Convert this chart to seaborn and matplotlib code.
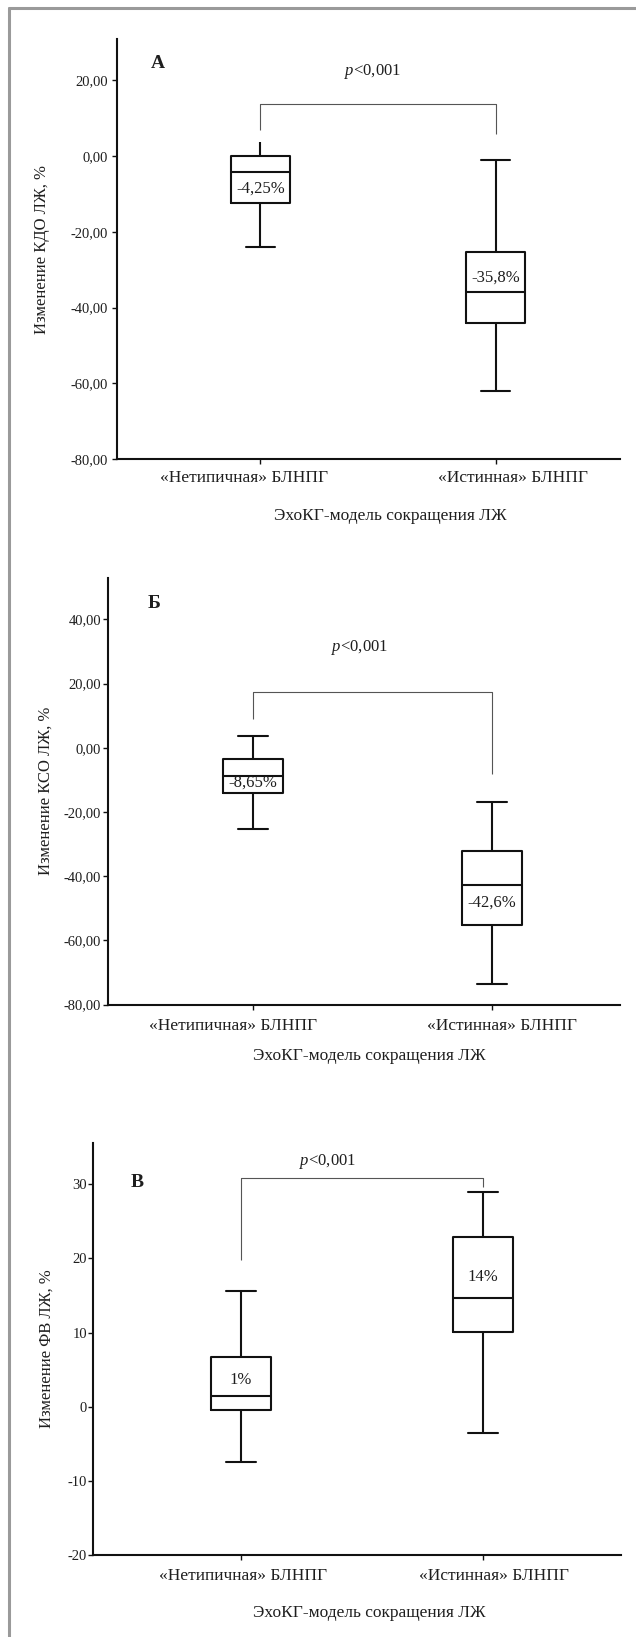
import numpy as np
import pandas as pd
import matplotlib
matplotlib.use("Agg")
import matplotlib.pyplot as plt
from matplotlib.lines import Line2D
from matplotlib.ticker import FuncFormatter
from matplotlib.transforms import ScaledTranslation
import seaborn as sns

# ---------------- data (five-number summaries) ----------------
categories = ["«Нетипичная» БЛНПГ", "«Истинная» БЛНПГ"]
# order: lower whisker, Q1, median, Q3, upper whisker
kdo_atypical = [-23.9, -12.5, -4.25, 0.0, 3.8]
kdo_true = [-62.1, -44.1, -35.8, -25.3, -1.1]
kso_atypical = [-25.4, -14.0, -8.65, -3.4, 3.6]
kso_true = [-73.5, -55.2, -42.6, -32.2, -17.0]
fv_atypical = [-7.5, -0.43, 1.5, 6.74, 15.57]
fv_true = [-3.58, 10.07, 14.7, 22.83, 28.98]

kdo_labels = ["-4,25%", "-35,8%"]
kso_labels = ["-8,65%", "-42,6%"]
fv_labels = ["1%", "14%"]
kdo_label_y = [-8.47, -32.0]
kso_label_y = [-11.0, -48.2]
fv_label_y = [3.6, 17.5]

kdo_ticks = [-80, -60, -40, -20, 0, 20]
kso_ticks = [-80, -60, -40, -20, 0, 20, 40]
fv_ticks = [-20, -10, 0, 10, 20, 30]

# significance brackets: left leg bottom, bar height, right leg bottom
kdo_bracket = [6.9, 13.86, 5.86]
kso_bracket = [8.8, 17.4, -8.3]
fv_bracket = [19.8, 30.9, 29.6]

panel_letters = ["А", "Б", "В"]
p_text = "$p$<0,001"
ylabels = ["Изменение КДО ЛЖ, %", "Изменение КСО ЛЖ, %", "Изменение ФВ ЛЖ, %"]
xlabel = "ЭхоКГ-модель сокращения ЛЖ"

# ---------------- style ----------------
sns.set_theme(style="ticks")
plt.rcParams["font.family"] = ["Liberation Serif", "DejaVu Serif"]
plt.rcParams["mathtext.fontset"] = "custom"
plt.rcParams["mathtext.rm"] = "Liberation Serif"
plt.rcParams["mathtext.it"] = "Liberation Serif:italic"
TXT = "#1e1e1e"
LINE = "#111111"

W, H = 636, 1637
fig = plt.figure(figsize=(W / 100, H / 100), dpi=100)
fig.patch.set_facecolor("white")


def add_axes_px(left, right, top, bottom):
    return fig.add_axes([left / W, 1 - bottom / H, (right - left) / W, (bottom - top) / H])


panels = [
    dict(rect=(116.7, 620, 39.3, 459.3), atyp=kdo_atypical, true=kdo_true, ylim=(-80, 30.8),
         xlim=(-0.61, 1.528), ticks=kdo_ticks, fmt="{:.2f}", labels=kdo_labels, label_y=kdo_label_y,
         bracket=kdo_bracket, letter_xy=(-0.437, 24.5), p_xy=(0.479, 22.4), ypad=3.0, xpad=4.0,
         ylabel_x=-0.149, xlabel_xy=(0.543, -0.135), hide_cap=3.8, xshift=(-16, 17)),
    dict(rect=(107.6, 620, 577.9, 1004.6), atyp=kso_atypical, true=kso_true, ylim=(-80, 52.9),
         xlim=(-0.609, 1.537), ticks=kso_ticks, fmt="{:.2f}", labels=kso_labels, label_y=kso_label_y,
         bracket=kso_bracket, letter_xy=(-0.413, 45.0), p_xy=(0.445, 31.2), ypad=1.0, xpad=6.0,
         ylabel_x=-0.121, xlabel_xy=(0.51, -0.120), hide_cap=None, xshift=(-20, 10.6)),
    dict(rect=(93.3, 620.5, 1142.8, 1555), atyp=fv_atypical, true=fv_true, ylim=(-20, 35.6),
         xlim=(-0.61, 1.568), ticks=fv_ticks, fmt="{:.0f}", labels=fv_labels, label_y=fv_label_y,
         bracket=fv_bracket, letter_xy=(-0.43, 30.2), p_xy=(0.358, 33.1), ypad=1.0, xpad=5.5,
         ylabel_x=-0.088, xlabel_xy=(0.524, -0.140), hide_cap=None, xshift=(2.4, 11)),
]

for i, p in enumerate(panels):
    ax = add_axes_px(*p["rect"])
    df = pd.DataFrame({
        "group": np.repeat(categories, 5),
        "value": list(p["atyp"]) + list(p["true"]),
    })
    sns.boxplot(data=df, x="group", y="value", order=categories, ax=ax,
                width=0.25, whis=(0, 100), fill=False, color=LINE, linewidth=1.5,
                showfliers=False)
    # hide a cap where the reference shows none
    if p["hide_cap"] is not None:
        for ln in ax.lines:
            y = np.asarray(ln.get_ydata(), dtype=float)
            if len(y) == 2 and np.allclose(y, p["hide_cap"]):
                ln.set_visible(False)

    ax.set_xlim(*p["xlim"])
    ax.set_ylim(*p["ylim"])
    ax.set_yticks(p["ticks"])
    fmt = p["fmt"]
    ax.yaxis.set_major_formatter(FuncFormatter(lambda v, pos, f=fmt: f.format(v).replace(".", ",")))
    for s in ["top", "right"]:
        ax.spines[s].set_visible(False)
    for s in ["left", "bottom"]:
        ax.spines[s].set_linewidth(1.5)
        ax.spines[s].set_color(LINE)
    ax.tick_params(axis="y", direction="out", length=3.5, width=1.0, color=LINE,
                   labelsize=10.5, labelcolor=TXT, pad=p["ypad"])
    ax.tick_params(axis="x", direction="out", length=3.5, width=1.0, color=LINE,
                   labelsize=12.5, labelcolor=TXT, pad=p["xpad"])
    ax.set_facecolor("none")

    # x tick labels are spread slightly apart in the reference
    for lab, dx in zip(ax.get_xticklabels(), p["xshift"]):
        lab.set_transform(lab.get_transform() + ScaledTranslation(dx / 100, 0, fig.dpi_scale_trans))

    ax.set_ylabel(ylabels[i], fontsize=12, color=TXT, va="center")
    ax.yaxis.set_label_coords(p["ylabel_x"], 0.5)
    ax.set_xlabel(xlabel, fontsize=12.5, color=TXT, va="center")
    ax.xaxis.set_label_coords(*p["xlabel_xy"])

    # median labels
    for k in range(2):
        ax.text(k, p["label_y"][k], p["labels"][k], ha="center", va="center",
                fontsize=12, color=TXT)

    # panel letter
    ax.text(*p["letter_xy"], panel_letters[i], ha="center", va="center",
            fontsize=14, fontweight="bold", color=TXT)

    # significance bracket
    lb, top, rb = p["bracket"]
    ax.plot([0, 0, 1, 1], [lb, top, top, rb], color="#555555", lw=0.8, solid_capstyle="butt")
    ax.text(*p["p_xy"], p_text, ha="center", va="center", fontsize=12, color=TXT)

# grey frame (top and left edges)
fig.add_artist(Line2D([8.5 / W, 1.0], [1 - 7.5 / H, 1 - 7.5 / H], transform=fig.transFigure,
                      color="#9a9a9a", lw=2.2))
fig.add_artist(Line2D([8.5 / W, 8.5 / W], [0.0, 1 - 7.5 / H], transform=fig.transFigure,
                      color="#9a9a9a", lw=2.2))

fig.savefig("out.png", dpi=100, facecolor="white")
